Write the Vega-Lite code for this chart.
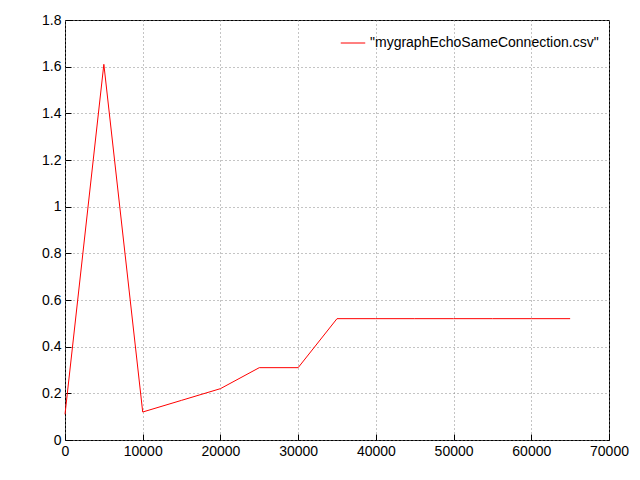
{
  "$schema": "https://vega.github.io/schema/vega-lite/v6.json",
  "width": 544,
  "height": 420,
  "autosize": {"type": "none"},
  "padding": {"left": 65, "top": 20, "right": 31, "bottom": 40},
  "background": "white",
  "config": {
    "view": {"stroke": "black", "strokeWidth": 1},
    "font": "Liberation Sans",
    "axis": {
      "gridDash": [1, 3], "gridColor": "#888", "gridOpacity": 1,
      "domain": false, "tickColor": "black", "tickSize": -6, "tickOffset": 0,
      "labelFontSize": 14, "labelColor": "black", "title": null, "labelPadding": 10, "labelFlush": false
    }
  },
  "data": {"values": [
    {"x": 0, "y": 0.11, "s": "\"mygraphEchoSameConnection.csv\""},
    {"x": 5000, "y": 1.61, "s": "\"mygraphEchoSameConnection.csv\""},
    {"x": 10000, "y": 0.12, "s": "\"mygraphEchoSameConnection.csv\""},
    {"x": 15000, "y": 0.17, "s": "\"mygraphEchoSameConnection.csv\""},
    {"x": 20000, "y": 0.22, "s": "\"mygraphEchoSameConnection.csv\""},
    {"x": 25000, "y": 0.31, "s": "\"mygraphEchoSameConnection.csv\""},
    {"x": 30000, "y": 0.31, "s": "\"mygraphEchoSameConnection.csv\""},
    {"x": 35000, "y": 0.52, "s": "\"mygraphEchoSameConnection.csv\""},
    {"x": 40000, "y": 0.52, "s": "\"mygraphEchoSameConnection.csv\""},
    {"x": 45000, "y": 0.52, "s": "\"mygraphEchoSameConnection.csv\""},
    {"x": 50000, "y": 0.52, "s": "\"mygraphEchoSameConnection.csv\""},
    {"x": 55000, "y": 0.52, "s": "\"mygraphEchoSameConnection.csv\""},
    {"x": 60000, "y": 0.52, "s": "\"mygraphEchoSameConnection.csv\""},
    {"x": 65000, "y": 0.52, "s": "\"mygraphEchoSameConnection.csv\""}
  ]},
  "mark": {"type": "line", "strokeWidth": 1},
  "encoding": {
    "x": {"field": "x", "type": "quantitative", "scale": {"domain": [0, 70000], "nice": false},
      "axis": {"values": [0,10000,20000,30000,40000,50000,60000,70000], "format": "d"}},
    "y": {"field": "y", "type": "quantitative", "scale": {"domain": [0, 1.8], "nice": false},
      "axis": {"values": [0,0.2,0.4,0.6,0.8,1,1.2,1.4,1.6,1.8], "format": "~g"}},
    "color": {"field": "s", "type": "nominal", "scale": {"range": ["red"]},
      "legend": {"title": null, "orient": "top-right", "symbolType": "stroke", "symbolSize": 600,
        "symbolStrokeWidth": 1, "labelFontSize": 14, "labelColor": "black", "labelLimit": 0, "offset": 10}}
  }
}
